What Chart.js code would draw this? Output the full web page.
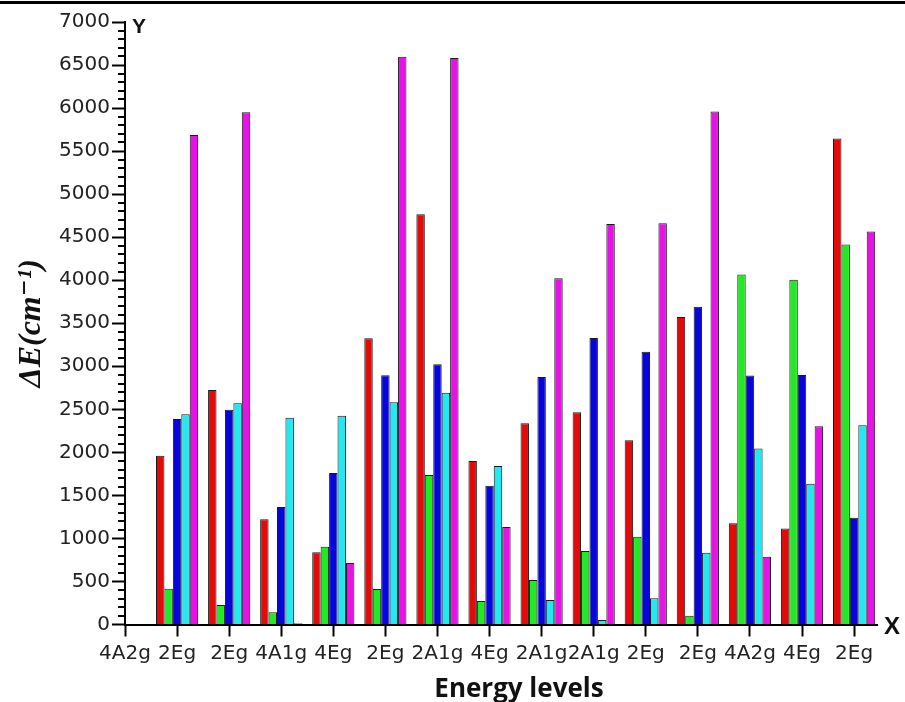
<!DOCTYPE html>
<html>
<head>
<meta charset="utf-8">
<script src="https://cdn.jsdelivr.net/npm/chart.js@4/dist/chart.umd.min.js"></script>
<style>
  html, body { margin: 0; padding: 0; background: #fff; }
  #wrap { width: 905px; height: 702px; }
</style>
</head>
<body>
<div id="wrap"><canvas id="c" width="905" height="702"></canvas></div>
<script>
// Category labels (first category has no bars)
const xLabels = ['4A2g', '2Eg', '2Eg', '4A1g', '4Eg', '2Eg', '2A1g', '4Eg', '2A1g', '2A1g', '2Eg', '2Eg', '4A2g', '4Eg', '2Eg'];
// Series values (ΔE in cm^-1)
const redVals     = [null, 1960, 2725, 1222,  839, 3325, 4766, 1900, 2337, 2465, 2140, 3573, 1175, 1114, 5647];
const greenVals   = [null,  416,  227,  142,  904,  412, 1737,  273,  517,  854, 1020,  103, 4066, 4005, 4416];
const blueVals    = [null, 2388, 2496, 1365, 1760, 2895, 3023, 1613, 2876, 3329, 3170, 3691, 2893, 2898, 1240];
const cyanVals    = [null, 2442, 2570, 2403, 2426, 2582, 2693, 1841,  285,   52,  304,  833, 2046, 1635, 2314];
const magentaVals = [null, 5687, 5951,   15,  715, 6597, 6583, 1133, 4022, 4653, 4661, 5960,  788, 2303, 4567];
// Y tick settings
const yMin = 0, yMax = 7000, yMajorStep = 500, yMinorStep = 100;

function toPoints(arr) { return arr.map((v, i) => ({ x: i + 1, y: v })); }

const seriesDefs = [
  { vals: redVals,     color: '#E30A0A' },
  { vals: greenVals,   color: '#22EA22' },
  { vals: blueVals,    color: '#0505DC' },
  { vals: cyanVals,    color: '#22E8F2' },
  { vals: magentaVals, color: '#E612E6' }
];

const decor = {
  id: 'decor',
  afterDraw(chart) {
    const ctx = chart.ctx;
    const ys = chart.scales.y;
    const ca = chart.chartArea;
    ctx.save();
    // top frame line
    ctx.fillStyle = '#000';
    ctx.fillRect(0, 1, 905, 3);
    // minor y ticks
    ctx.strokeStyle = '#000';
    ctx.lineWidth = 2;
    ctx.beginPath();
    for (let v = yMin + yMinorStep; v < yMax; v += yMinorStep) {
      if (v % yMajorStep === 0) continue;
      const y = Math.round(ys.getPixelForValue(v));
      ctx.moveTo(ca.left - 7, y);
      ctx.lineTo(ca.left, y);
    }
    ctx.stroke();
    // axis letters
    ctx.fillStyle = '#111';
    ctx.textBaseline = 'middle';
    ctx.textAlign = 'left';
    ctx.font = 'bold 21px "Liberation Sans", Arial, sans-serif';
    ctx.fillText('Y', ca.left + 7, 27);
    ctx.font = 'bold 24px "Liberation Sans", Arial, sans-serif';
    ctx.fillText('X', ca.right + 7, ca.bottom + 3);
    // x axis title
    ctx.font = 'bold 26px "Open Sans", sans-serif';
    ctx.textAlign = 'center';
    ctx.textBaseline = 'alphabetic';
    ctx.fillText('Energy levels', 519, 697);
    ctx.restore();
  }
};

new Chart(document.getElementById('c'), {
  type: 'bar',
  data: {
    datasets: seriesDefs.map(s => ({
      data: toPoints(s.vals),
      backgroundColor: s.color,
      borderColor: '#1a1a1a',
      borderWidth: 1,
      borderSkipped: 'bottom'
    }))
  },
  options: {
    responsive: false,
    animation: false,
    layout: { padding: { top: 22, right: 28, left: 0, bottom: 0 } },
    plugins: { legend: { display: false }, tooltip: { enabled: false } },
    datasets: { bar: { categoryPercentage: 0.81, barPercentage: 1 } },
    scales: {
      x: {
        type: 'linear',
        offset: false,
        min: 1,
        max: 15.44,
        afterBuildTicks: (scale) => { scale.ticks = xLabels.map((_, i) => ({ value: i + 1 })); },
        afterFit: (scale) => { scale.height = 77.5; },
        grid: { offset: false, drawOnChartArea: false, drawTicks: true, tickLength: 12, tickWidth: 2, tickColor: '#000' },
        border: { display: true, color: '#000', width: 2 },
        ticks: {
          autoSkip: false, maxRotation: 0, minRotation: 0, padding: 5,
          color: '#222',
          font: { family: '"DejaVu Sans", sans-serif', size: 20 },
          callback: (v, i) => xLabels[i]
        }
      },
      y: {
        min: yMin,
        max: yMax,
        afterFit: (scale) => { scale.width = 125; },
        grid: { drawOnChartArea: false, drawTicks: true, tickLength: 13, tickWidth: 2, tickColor: '#000' },
        border: { display: true, color: '#000', width: 2 },
        ticks: {
          stepSize: yMajorStep, padding: 2, color: '#222',
          font: { family: '"DejaVu Sans", sans-serif', size: 20 },
          callback: (v) => String(v)
        },
        title: {
          display: true,
          text: 'ΔE(cm⁻¹)',
          color: '#111',
          font: { family: '"Liberation Serif", "DejaVu Serif", serif', size: 32, style: 'italic', weight: 'bold' },
          padding: { top: 13, bottom: 0 }
        }
      }
    }
  },
  plugins: [decor]
});
</script>
</body>
</html>
